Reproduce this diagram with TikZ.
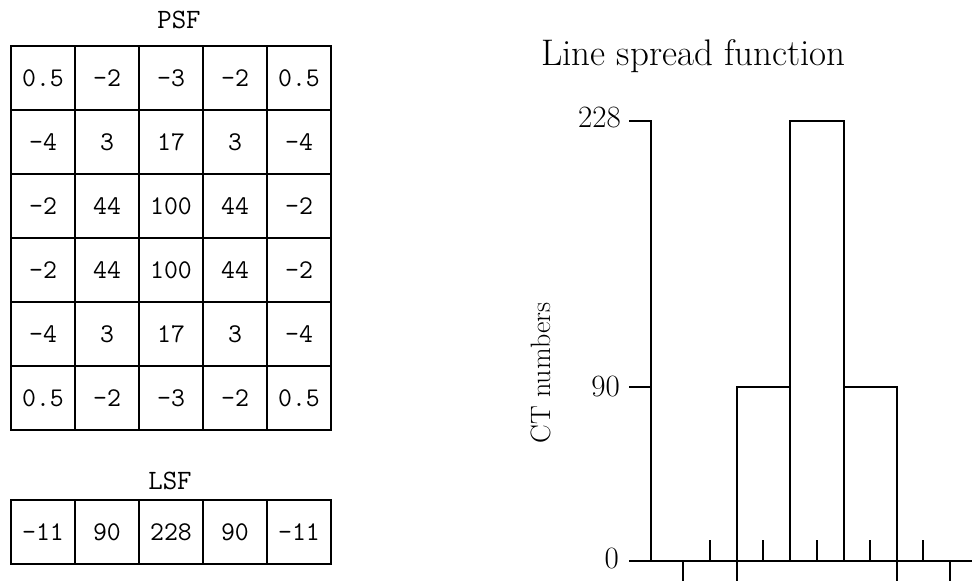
\documentclass[tikz,border=0pt]{standalone}
\usepackage{fontspec}
\usepackage{tikz}
\usetikzlibrary{positioning}

\begin{document}
\begin{tikzpicture}
	% Styles
	[
	x=1pt, y=-1pt,
	cell/.style={rectangle,draw,line width=1.8pt,inner sep=0pt,minimum width=64pt,minimum height=64pt,font=\fontsize{27}{30}\selectfont\ttfamily},
	heading/.style={anchor=base,font=\fontsize{28}{30}\selectfont\ttfamily},
	axislabel/.style={anchor=base east,inner sep=0pt,font=\fontsize{31}{34}\selectfont},
	plotline/.style={line width=1.8pt},
	]
	\useasboundingbox (0,0) rectangle (972,581);
	\clip (0,0) rectangle (972,581);

	% Titles
	\node at (179,28)	(psftitle)	[heading] {PSF};
	\node at (170,489)	(lsftitle)	[heading] {LSF};

	% PSF cells
	\node at (43,78)	(psf11)	[cell] {0.5};
	\node at (107,78)	(psf12)	[cell] {-2};
	\node at (171,78)	(psf13)	[cell] {-3};
	\node at (235,78)	(psf14)	[cell] {-2};
	\node at (299,78)	(psf15)	[cell] {0.5};

	\node at (43,142)	(psf21)	[cell] {-4};
	\node at (107,142)	(psf22)	[cell] {3};
	\node at (171,142)	(psf23)	[cell] {17};
	\node at (235,142)	(psf24)	[cell] {3};
	\node at (299,142)	(psf25)	[cell] {-4};

	\node at (43,206)	(psf31)	[cell] {-2};
	\node at (107,206)	(psf32)	[cell] {44};
	\node at (171,206)	(psf33)	[cell] {100};
	\node at (235,206)	(psf34)	[cell] {44};
	\node at (299,206)	(psf35)	[cell] {-2};

	\node at (43,270)	(psf41)	[cell] {-2};
	\node at (107,270)	(psf42)	[cell] {44};
	\node at (171,270)	(psf43)	[cell] {100};
	\node at (235,270)	(psf44)	[cell] {44};
	\node at (299,270)	(psf45)	[cell] {-2};

	\node at (43,334)	(psf51)	[cell] {-4};
	\node at (107,334)	(psf52)	[cell] {3};
	\node at (171,334)	(psf53)	[cell] {17};
	\node at (235,334)	(psf54)	[cell] {3};
	\node at (299,334)	(psf55)	[cell] {-4};

	\node at (43,398)	(psf61)	[cell] {0.5};
	\node at (107,398)	(psf62)	[cell] {-2};
	\node at (171,398)	(psf63)	[cell] {-3};
	\node at (235,398)	(psf64)	[cell] {-2};
	\node at (299,398)	(psf65)	[cell] {0.5};

	% LSF cells
	\node at (43,532)	(lsf1)	[cell] {-11};
	\node at (107,532)	(lsf2)	[cell] {90};
	\node at (171,532)	(lsf3)	[cell] {228};
	\node at (235,532)	(lsf4)	[cell] {90};
	\node at (299,532)	(lsf5)	[cell] {-11};

	% Plot labels
	\node at (541,65)	(plottitle)	[anchor=base west,inner sep=0pt,font=\fontsize{37}{42}\selectfont] {Line spread function};
	\node at (541,373)	(ylabel)	[rotate=90,font=\fontsize{28}{32}\selectfont] {CT numbers};
	\node at (621,127)	(l228)	[axislabel] {228};
	\node at (620,396)	(l90)	[axislabel] {90};
	\node at (619,568)	(l0)	[axislabel] {0};

	% Axes
	\draw[plotline] (629,121) -- (651,121) -- (651,561);
	\draw[plotline] (629,387) -- (651,387);
	\draw[plotline] (629,561) -- (972,561);

	% Bars
	\draw[plotline] (683,561) rectangle (737,582.3);
	\draw[plotline] (737,561) rectangle (790,387);
	\draw[plotline] (790,561) rectangle (844,121);
	\draw[plotline] (844,561) rectangle (897,387);
	\draw[plotline] (897,561) rectangle (950,582.3);

	% Ticks
	\draw[plotline] (710,561) -- (710,540);
	\draw[plotline] (763,561) -- (763,540);
	\draw[plotline] (817,561) -- (817,540);
	\draw[plotline] (870,561) -- (870,540);
	\draw[plotline] (923,561) -- (923,540);

\end{tikzpicture}
\end{document}
